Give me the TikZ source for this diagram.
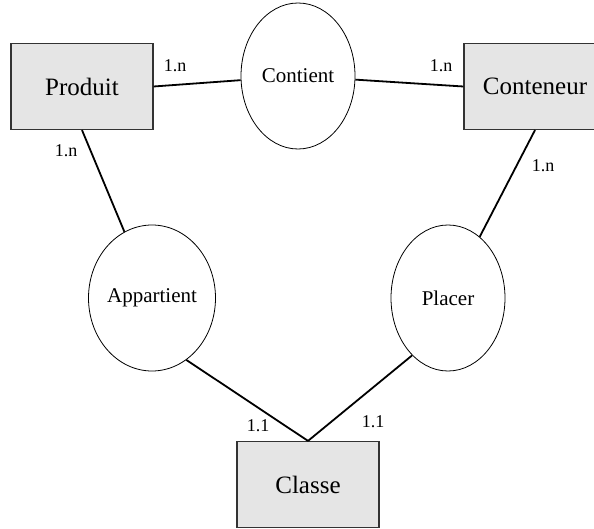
\documentclass[tikz,border=0pt]{standalone}
\usepackage{fontspec}
\setmainfont{Liberation Serif}
\usetikzlibrary{shapes.geometric}
\tikzset{
    entity/.style = {rectangle, minimum width=142pt, minimum height=86pt, text centered, draw=black!80, line width=1.2pt, fill=gray!20, font=\fontsize{25}{30}\selectfont},
    relation/.style = {ellipse, minimum width=114pt, minimum height=146pt, inner sep=0pt, draw=black, line width=0.8pt, font=\fontsize{21}{25}\selectfont},
    card/.style = {inner sep=0pt, font=\fontsize{18}{22}\selectfont},
    link/.style = {line width=1.8pt}
}
\begin{document}
\begin{tikzpicture}[x=1pt,y=-1pt]
\useasboundingbox (0,0) rectangle (594,529);
\clip (0,0) rectangle (594,529);
\node (prod) [entity] at (82,86.5) {Produit};
\node (cont) [entity] at (535,86.5) {Conteneur};
\node (classe) [entity] at (308,484.5) {Classe};
\node (contient) [relation] at (298,76) {Contient};
\node (appart) [relation] at (152,298) {Appartient};
\node (placer) [relation] at (448,298) {Placer};

\draw [link] (prod.east) -- (contient);
\draw [link] (cont.west) -- (contient);
\draw [link] (prod.south) -- (appart);
\draw [link] (cont.south) -- (placer);
\draw [link] (appart.-61) -- (classe.north);
\draw [link] (placer.-122) -- (classe.north);

\node (c1) [card] at (175,66) {1.n};
\node (c2) [card] at (441,66) {1.n};
\node (c3) [card] at (66,151) {1.n};
\node (c4) [card] at (543,166) {1.n};
\node (c5) [card] at (258,426) {1.1};
\node (c6) [card] at (373,422) {1.1};
\end{tikzpicture}
\end{document}
